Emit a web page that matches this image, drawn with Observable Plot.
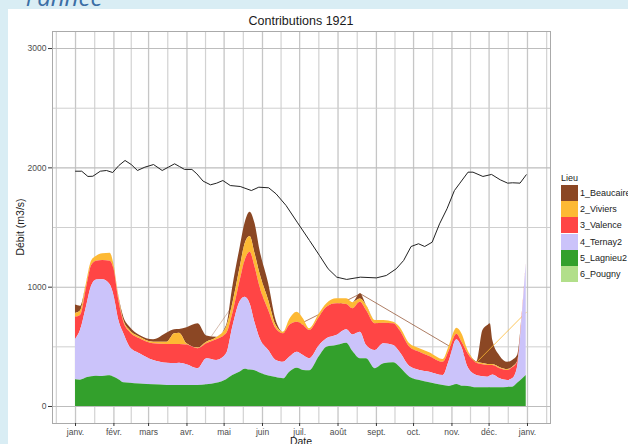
<!DOCTYPE html>
<html><head><meta charset="utf-8">
<script src="https://cdn.jsdelivr.net/npm/d3@7"></script>
<script src="https://cdn.jsdelivr.net/npm/@observablehq/plot@0.6"></script>
<style>
html,body{margin:0;padding:0;}
body{width:628px;height:444px;background:#d9edf4;position:relative;overflow:hidden;font-family:"Liberation Sans",Arial,sans-serif;}
#panel{position:absolute;left:8px;top:9px;right:0;bottom:0;background:#fff;}
#head{position:absolute;left:26px;top:-20px;font-size:24px;font-style:italic;color:#3b6ea5;font-family:"Open Sans",sans-serif;white-space:nowrap;}
#chart{position:absolute;left:0;top:0;}
#title{position:absolute;top:14px;left:52px;width:498px;text-align:center;font-size:12.5px;color:#1a1a1a;}
#ylab{position:absolute;left:20px;top:227px;transform:translate(-50%,-50%) rotate(-90deg);font-size:10.5px;white-space:nowrap;color:#1a1a1a;}
#xlab{position:absolute;left:301px;top:435px;transform:translateX(-50%);font-size:10.5px;color:#1a1a1a;}
#legend{position:absolute;left:561px;top:173px;font-size:9px;color:#1a1a1a;white-space:nowrap;}
#legend .lt{height:11px;line-height:11px;margin-bottom:1px;}
#legend .row{display:flex;align-items:center;height:16.2px;}
#legend .key{width:17px;height:16px;margin-right:2px;}
</style></head>
<body>
<div id="head">l'année</div>
<div id="panel"></div>
<div id="chart"></div>
<div id="title">Contributions 1921</div>
<div id="ylab">Débit (m3/s)</div>
<div id="xlab">Date</div>
<div id="legend"></div>
<script>
// ---- data (m3/s) ----
const dates = ["1921-01-01","1921-01-05","1921-01-10","1921-01-14","1921-01-18","1921-01-23","1921-01-29","1921-02-01","1921-02-05","1921-02-09","1921-02-14","1921-02-22","1921-03-05","1921-03-16","1921-03-22","1921-03-26","1921-04-01","1921-04-10","1921-04-17","1921-04-25","1921-05-03","1921-05-08","1921-05-14","1921-05-18","1921-05-22","1921-05-26","1921-05-30","1921-06-06","1921-06-12","1921-06-18","1921-06-23","1921-06-29","1921-07-04","1921-07-09","1921-07-17","1921-07-23","1921-07-31","1921-08-08","1921-08-13","1921-08-19","1921-08-24","1921-08-31","1921-09-07","1921-09-15","1921-09-20","1921-09-28","1921-10-06","1921-10-14","1921-10-25","1921-10-30","1921-11-05","1921-11-09","1921-11-14","1921-11-21","1921-11-26","1921-11-30","1921-12-02","1921-12-04","1921-12-10","1921-12-16","1921-12-20","1921-12-24","1921-12-28","1921-12-31"];
const lagnieu2 = [224,220,240,250,254,251,257,245,225,199,195,188,182,177,176,176,176,176,182,195,225,260,290,313,305,300,280,255,242,232,288,321,302,300,420,497,511,530,460,400,400,316,358,366,329,246,218,200,176,168,184,170,168,157,157,157,157,157,157,160,162,195,230,260];
const ternay2 = [338,417,602,760,806,811,763,685,495,410,302,254,203,185,184,187,174,140,218,191,217,405,590,603,555,400,290,214,144,139,125,134,125,100,90,70,84,113,140,223,111,153,167,145,126,89,84,88,84,218,376,327,161,103,93,89,98,108,75,58,70,134,550,936];
const valence = [187,126,158,172,158,162,198,224,169,98,126,125,140,158,160,157,165,168,125,173,167,112,176,308,433,468,430,336,265,238,267,252,253,237,239,265,266,212,219,251,294,224,173,182,182,162,153,132,111,83,45,43,113,103,100,98,89,79,84,84,92,42,20,4];
const viviers = [31,37,40,38,42,56,67,36,27,14,14,14,14,19,89,94,10,6,14,17,56,84,112,140,132,112,112,84,28,14,50,83,55,14,28,29,42,48,51,26,42,28,23,14,28,28,29,30,23,42,50,69,27,8,10,8,8,8,9,8,6,4,2,0];
const beaucaire = [70,40,0,0,0,0,0,0,9,28,28,14,20,76,34,31,135,203,51,4,14,139,167,176,204,251,196,139,42,0,0,0,0,0,0,0,0,0,0,45,0,0,0,0,0,0,0,0,0,0,0,0,0,0,277,327,341,201,95,61,56,52,3,0];

// thin gap segments visible in the original (series tops joined across missing days)
const beaucaireGapDates = ["1921-06-18","1921-08-19","1921-11-21"];
const beaucaireGapValues = [623,945,371];
const viviersGapDates1 = ["1921-04-20","1921-05-08"];
const viviersGapValues1 = [578,847];
const viviersGapDates2 = ["1921-11-21","1921-12-31"];
const viviersGapValues2 = [371,790];

// observed discharge (black line)
const lineDates = ["1921-01-01","1921-01-06","1921-01-11","1921-01-15","1921-01-21","1921-01-26","1921-01-31","1921-02-05","1921-02-10","1921-02-15","1921-02-20","1921-02-26","1921-03-05","1921-03-12","1921-03-17","1921-03-22","1921-03-26","1921-03-30","1921-04-05","1921-04-09","1921-04-14","1921-04-20","1921-04-25","1921-04-30","1921-05-06","1921-05-14","1921-05-23","1921-05-29","1921-06-06","1921-06-12","1921-06-20","1921-06-29","1921-07-09","1921-07-17","1921-07-24","1921-07-31","1921-08-08","1921-08-19","1921-09-01","1921-09-09","1921-09-17","1921-09-23","1921-09-29","1921-10-05","1921-10-10","1921-10-16","1921-10-22","1921-10-28","1921-11-03","1921-11-07","1921-11-14","1921-11-18","1921-11-26","1921-12-03","1921-12-10","1921-12-16","1921-12-20","1921-12-26","1921-12-31"];
const lineValues = [1972,1972,1928,1930,1972,1978,1961,2020,2062,2028,1978,2006,2028,1978,2006,2034,2011,1987,1987,1950,1889,1858,1872,1894,1852,1844,1810,1838,1833,1782,1685,1545,1391,1266,1154,1084,1065,1084,1078,1098,1154,1224,1341,1364,1341,1377,1531,1657,1810,1866,1964,1964,1928,1945,1900,1872,1875,1872,1942];

const lieux = ["1_Beaucaire","2_Viviers","3_Valence","4_Ternay2","5_Lagnieu2","6_Pougny"];
const couleurs = ["#8b4724","#fdb934","#ff4545","#cbc3fa","#33a02c","#b2df8a"];
const monthLabels = ["janv.","févr.","mars","avr.","mai","juin","juil.","août","sept.","oct.","nov.","déc."];
const yTicks = [0,1000,2000,3000];

// ---- build ----
const parse = d3.utcParse("%Y-%m-%d");
const X = dates.map(parse);
// stacking bottom-up
const stackOrder = [["5_Lagnieu2",lagnieu2],["4_Ternay2",ternay2],["3_Valence",valence],["2_Viviers",viviers],["1_Beaucaire",beaucaire]];
const base = X.map(() => 0);
const bands = {};
for (const [name, vals] of stackOrder) {
  bands[name] = X.map((d,i) => { const y1 = base[i]; base[i] += vals[i]; return {date:d, y1, y2:base[i]}; });
}
const col = Object.fromEntries(lieux.map((l,i)=>[l,couleurs[i]]));
const pts = (ds, vs) => ds.map((d,i)=>({date:parse(d), v:vs[i]}));

const day = 864e5;
const t0 = Date.UTC(1921,0,1);
const xDomain = [new Date(t0 - 18.6*day), new Date(t0 + 383.6*day)];
const majors = d3.utcMonths(new Date(Date.UTC(1920,11,1)), new Date(Date.UTC(1922,2,1)));
const minors = d3.pairs(majors).map(([a,b]) => new Date((+a + +b)/2)).filter(d => d >= xDomain[0] && d <= xDomain[1]);
const xTicks = majors.filter(d => d >= xDomain[0] && d <= xDomain[1]);

const area = name => Plot.areaY(bands[name], {x:"date", y1:"y1", y2:"y2", fill:col[name], curve:"monotone-x"});

const chart = Plot.plot({
  width:628, height:444,
  marginLeft:52, marginRight:78, marginTop:31, marginBottom:21,
  style:{background:"transparent", color:"#4d4d4d", fontFamily:"Liberation Sans, Arial, sans-serif"},
  x:{type:"utc", domain:xDomain},
  y:{domain:[-142.5,3143]},
  marks:[
    Plot.ruleX(minors, {stroke:"#d2d2d2", strokeWidth:1.2}),
    Plot.ruleX(xTicks, {stroke:"#c6c6c6", strokeWidth:1.3}),
    Plot.ruleY([500,1500,2500], {stroke:"#cfcfcf", strokeWidth:1}),
    Plot.ruleY(yTicks, {stroke:"#bdbdbd", strokeWidth:1.1}),
    Plot.frame({stroke:"#aaaaaa", strokeWidth:1}),
    Plot.line(pts(viviersGapDates1, viviersGapValues1), {x:"date", y:"v", stroke:col["1_Beaucaire"], strokeOpacity:0.4, strokeWidth:0.9}),
    Plot.line(pts(beaucaireGapDates, beaucaireGapValues), {x:"date", y:"v", stroke:col["1_Beaucaire"], strokeOpacity:0.7, strokeWidth:1}),
    area("1_Beaucaire"),
    Plot.line(pts(viviersGapDates2, viviersGapValues2), {x:"date", y:"v", stroke:col["2_Viviers"], strokeOpacity:0.8, strokeWidth:1}),
    area("2_Viviers"),
    area("3_Valence"),
    area("4_Ternay2"),
    area("5_Lagnieu2"),
    Plot.line(pts(lineDates, lineValues), {x:"date", y:"v", stroke:"#222", strokeWidth:1}),
    Plot.axisX({ticks:xTicks, tickFormat:d => monthLabels[d.getUTCMonth()], tickSize:3, tickPadding:2, fontSize:8.5, label:null, stroke:"#333"}),
    Plot.axisY({ticks:yTicks, tickFormat:d => String(d), tickSize:4, tickPadding:2, fontSize:8.5, label:null, stroke:"#333"})
  ]
});
document.getElementById("chart").appendChild(chart);

// legend
const lg = document.getElementById("legend");
lg.innerHTML = '<div class="lt">Lieu</div>' + lieux.map((l,i)=>`<div class="row"><div class="key" style="background:${couleurs[i]}"></div><span>${l}</span></div>`).join("");
</script>
</body></html>
